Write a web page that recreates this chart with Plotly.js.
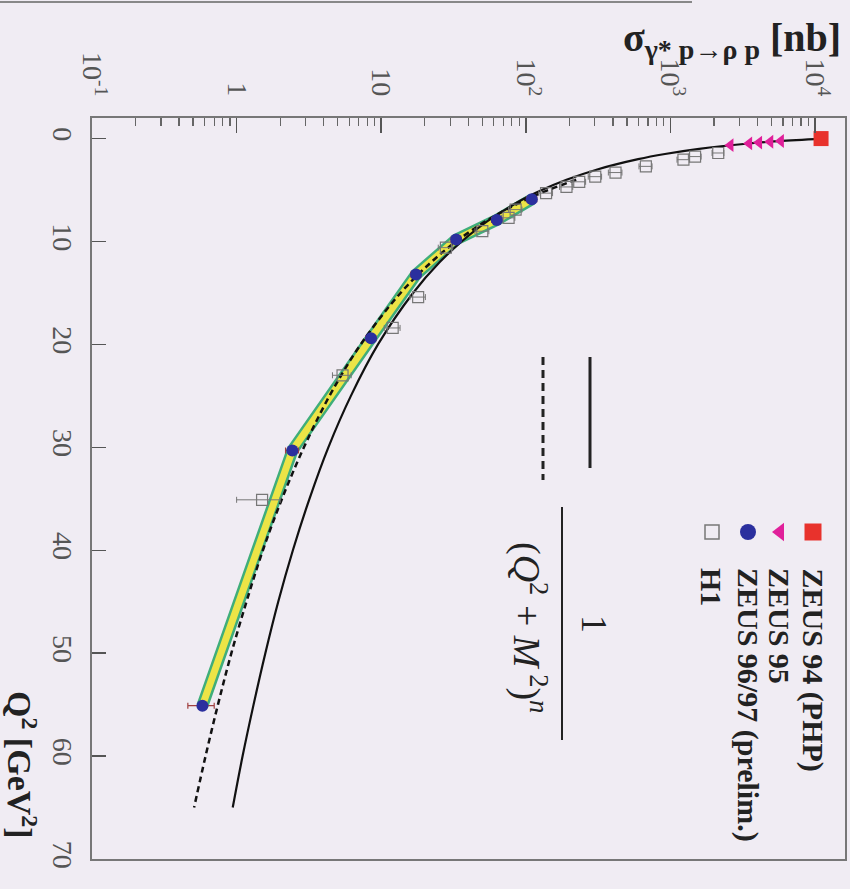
<!DOCTYPE html>
<html>
<head>
<meta charset="utf-8">
<script src="https://cdn.plot.ly/plotly-3.0.1.min.js"></script>
<style>html,body{margin:0;padding:0;background:#f0ecf3;}</style>
</head>
<body>
<div id="chart" style="width:850px;height:889px;"></div>
<script>
// ---- data ----
// ZEUS 94 (PHP)
const q2Zeus94 = [0];
const sigZeus94 = [11000];
// ZEUS 95
const q2Zeus95 = [0.23, 0.31, 0.39, 0.47, 0.64];
const sigZeus95 = [5800, 4900, 4100, 3500, 2600];
// ZEUS 96/97 (prelim.)
const q2Zeus97 = [5.9, 7.9, 9.8, 13.2, 19.4, 30.3, 55.1];
const sigZeus97 = [110, 63, 33, 17.4, 8.5, 2.43, 0.58];
const errZeus97 = [9, 5, 2.6, 1.4, 0.7, 0.25, 0.12];
// H1
const q2H1 = [1.4, 1.75, 2.05, 2.7, 3.3, 3.7, 4.2, 4.7, 5.3, 6.9, 7.7, 9.0, 10.6, 15.4, 18.4, 23.0, 35.1];
const sigH1 = [2140, 1480, 1230, 676, 417, 302, 234, 191, 138, 85, 76, 50, 28, 18, 12, 5.4, 1.5];
const errH1 = [200, 150, 120, 70, 45, 32, 25, 20, 15, 9, 8, 5.5, 3.2, 2.2, 1.5, 0.8, 0.5];
// solid curve 1/(Q^2+M^2)^n
const q2Solid = [0, 0.25, 0.5, 1, 1.5, 2, 3, 4, 5, 6, 8, 10, 12, 15, 20, 25, 30, 35, 40, 45, 50, 55, 60, 65];
const sigSolid = [11200, 5590, 3340, 1580, 916, 598, 312, 191, 129, 92.7, 54.6, 36.0, 25.4, 16.6, 9.5, 6.17, 4.31, 3.19, 2.45, 1.94, 1.58, 1.31, 1.10, 0.94];
// dashed curve
const q2Dash = [4, 5, 6, 8, 10, 12, 15, 20, 25, 30, 35, 40, 45, 50, 55, 60, 65];
const sigDash = [223, 143, 97.7, 53.3, 33.0, 22.2, 13.6, 7.21, 4.39, 2.92, 2.06, 1.52, 1.17, 0.92, 0.743, 0.61, 0.508];
// axis ticks
const sigTickVals = [0.1, 1, 10, 100, 1000, 10000];
const sigTickText = ['10<sup>-1</sup>', '1', '10', '10<sup>2</sup>', '10<sup>3</sup>', '10<sup>4</sup>'];
const q2TickVals = [0, 10, 20, 30, 40, 50, 60, 70];
const legendNames = ['ZEUS 94 (PHP)', 'ZEUS 95', 'ZEUS 96/97 (prelim.)', 'H1'];
const legendSymbols = ['square', 'triangle-left', 'circle', 'square-open'];
const legendColors = ['#e8322c', '#e0209a', '#2b2f9e', '#777777'];

// minor log ticks
const minorVals = [];
for (let d = -1; d <= 4; d++) for (let k = 2; k <= 9; k++) minorVals.push(k * Math.pow(10, d));

const serif = 'Liberation Serif, Times New Roman, serif';

// plot-area pixel -> paper helpers (layout only)
const L = 92, R = 845, T = 118, B = 859;
const px = x => (x - L) / (R - L);
const py = y => (B - y) / (B - T);

const traces = [
  // band of ZEUS 96/97
  {x: sigZeus97, y: q2Zeus97, mode: 'lines', line: {color: '#3fae7a', width: 12}, hoverinfo: 'skip', showlegend: false},
  {x: sigZeus97, y: q2Zeus97, mode: 'lines', line: {color: '#ece446', width: 7}, hoverinfo: 'skip', showlegend: false},
  {x: sigSolid, y: q2Solid, mode: 'lines', line: {color: '#111', width: 2.2, shape: 'spline'}, showlegend: false},
  {x: sigDash, y: q2Dash, mode: 'lines', line: {color: '#111', width: 2.5, dash: '6px,4px', shape: 'spline'}, showlegend: false},
  {x: sigH1, y: q2H1, mode: 'markers', name: legendNames[3],
   error_x: {type: 'data', array: errH1, color: '#777', thickness: 1, width: 3},
   marker: {symbol: 'square-open', size: 11, color: '#777', opacity: 1, line: {width: 1.2}}, showlegend: false},
  {x: sigZeus97, y: q2Zeus97, mode: 'markers', name: legendNames[2],
   error_x: {type: 'data', array: errZeus97, color: '#a04040', thickness: 1.2, width: 3},
   marker: {symbol: 'circle', size: 12, color: '#2b2f9e', opacity: 1}, showlegend: false},
  {x: sigZeus95, y: q2Zeus95, mode: 'markers', name: legendNames[1],
   marker: {symbol: 'triangle-left', size: 12, color: '#e0209a', opacity: 1}, showlegend: false},
  {x: sigZeus94, y: q2Zeus94, mode: 'markers', name: legendNames[0],
   marker: {symbol: 'square', size: 15, color: '#e8322c', opacity: 1}, showlegend: false}
];

// legend samples (overlay axis in plot-fraction units)
const legX = [813, 780, 748, 712];
const legSize = [17, 16, 16, 14];
legendNames.forEach((n, i) => traces.push({
  x: [px(legX[i])], y: [py(532)], xaxis: 'x2', yaxis: 'y2', mode: 'markers',
  showlegend: false, hoverinfo: 'skip',
  marker: {symbol: legendSymbols[i], size: legSize[i], color: legendColors[i], opacity: 1,
           line: {width: i === 3 ? 1.5 : 0, color: legendColors[i]}}
}));

const ann = [];
legendNames.forEach((t, i) => ann.push({
  xref: 'paper', yref: 'paper', x: px(legX[i]), y: py(566), xanchor: 'center', yanchor: 'top',
  text: '<b>' + t + '</b>', textangle: 90, showarrow: false,
  font: {family: serif, size: 30, color: '#222'}
}));
ann.push({xref: 'paper', yref: 'paper', x: px(594), y: py(624), xanchor: 'center', yanchor: 'middle',
  text: '1', textangle: 90, showarrow: false, font: {family: serif, size: 36, color: '#222'}});
ann.push({xref: 'paper', yref: 'paper', x: px(530), y: py(627), xanchor: 'center', yanchor: 'middle',
  text: '(<i>Q</i><sup>2</sup> + <i>M</i><sup> 2</sup>)<sup><i>n</i></sup>', textangle: 90, showarrow: false,
  font: {family: serif, size: 38, color: '#222'}});
ann.push({xref: 'paper', yref: 'paper', x: px(843), y: py(40), xanchor: 'right', yanchor: 'middle',
  text: '<b>σ<sub>γ* p→ρ p</sub> [nb]</b>', showarrow: false,
  font: {family: serif, size: 40, color: '#222'}});
ann.push({xref: 'paper', yref: 'paper', x: px(22), y: py(765), xanchor: 'center', yanchor: 'middle',
  text: '<b>Q<sup>2</sup> [GeV<sup>2</sup>]</b>', textangle: 90, showarrow: false,
  font: {family: serif, size: 34, color: '#222'}});

const shapes = [
  {type: 'line', xref: 'paper', yref: 'paper', x0: px(590), x1: px(590), y0: py(357), y1: py(468), line: {color: '#222', width: 3}},
  {type: 'line', xref: 'paper', yref: 'paper', x0: px(543), x1: px(543), y0: py(357), y1: py(480), line: {color: '#222', width: 3, dash: '8px,5px'}},
  {type: 'line', xref: 'paper', yref: 'paper', x0: px(562), x1: px(562), y0: py(507), y1: py(740), line: {color: '#222', width: 2}},
  {type: 'line', xref: 'paper', yref: 'paper', x0: px(0), x1: px(692), y0: py(2), y1: py(2), line: {color: '#888', width: 2}}
];

const layout = {
  width: 850, height: 889,
  margin: {l: L, r: 850 - R, t: T, b: 889 - B},
  paper_bgcolor: '#f0ecf3', plot_bgcolor: '#f0ecf3',
  showlegend: false,
  xaxis: {
    type: 'log', side: 'top', range: [-1, 4.207],
    tickmode: 'array', tickvals: sigTickVals, ticktext: sigTickText, tickangle: 90,
    ticks: 'inside', ticklen: 15, tickwidth: 1.5, tickcolor: '#555',
    minor: {tickmode: 'array', tickvals: minorVals, ticks: 'inside', ticklen: 8, tickwidth: 1.2, tickcolor: '#666', showgrid: false},
    showline: true, linecolor: '#777', linewidth: 2, mirror: true,
    showgrid: false, zeroline: false, ticklabelstandoff: 10,
    tickfont: {family: serif, size: 28, color: '#555'}
  },
  yaxis: {
    range: [70, -2], tickmode: 'array', tickvals: q2TickVals, tickangle: 90,
    ticks: 'inside', ticklen: 14, tickwidth: 1.5, tickcolor: '#555',
    showline: true, linecolor: '#777', linewidth: 2, mirror: true,
    showgrid: false, zeroline: false, ticklabelstandoff: 3,
    tickfont: {family: serif, size: 28, color: '#555'}
  },
  xaxis2: {overlaying: 'x', anchor: 'y2', range: [0, 1], visible: false, fixedrange: true},
  yaxis2: {overlaying: 'y', anchor: 'x2', range: [0, 1], visible: false, fixedrange: true},
  annotations: ann,
  shapes: shapes
};

Plotly.newPlot('chart', traces, layout, {displayModeBar: false, staticPlot: true});
</script>
</body>
</html>
